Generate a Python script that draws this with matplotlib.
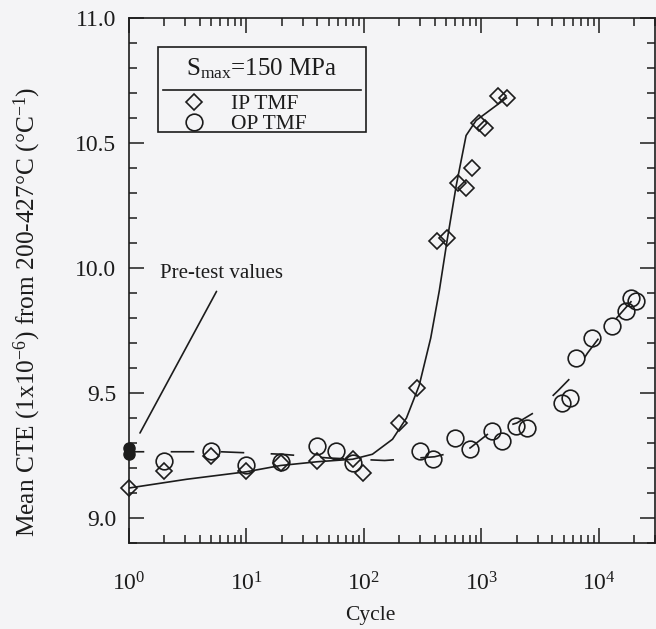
import matplotlib
matplotlib.use('Agg')
import matplotlib.pyplot as plt
from matplotlib.lines import Line2D
from matplotlib.patches import Rectangle
from matplotlib.ticker import LogLocator, MultipleLocator, LogFormatterMathtext, FormatStrFormatter, NullFormatter

plt.rcParams['font.family'] = ['Liberation Serif', 'DejaVu Serif']
plt.rcParams['mathtext.fontset'] = 'custom'
plt.rcParams['mathtext.rm'] = 'Liberation Serif'
plt.rcParams['mathtext.it'] = 'Liberation Serif:italic'
plt.rcParams['lines.scale_dashes'] = False

# ---- data ----
ip_cycles = [1, 2, 5, 10, 19.5, 39.5, 80, 99, 200, 284, 415, 510, 635, 740, 830, 955, 1080, 1370, 1660]
ip_cte = [9.12, 9.19, 9.25, 9.19, 9.22, 9.23, 9.235, 9.18, 9.38, 9.52, 10.11, 10.12, 10.34, 10.32, 10.40, 10.58, 10.56, 10.69, 10.68]

op_cycles = [2, 5, 10, 19.5, 39.5, 58, 80, 302, 389, 598, 802, 1233, 1500, 1972, 2447, 4850, 5670, 6340, 8780, 12970, 16830, 18570, 20480]
op_cte = [9.23, 9.27, 9.21, 9.225, 9.29, 9.27, 9.22, 9.27, 9.235, 9.32, 9.275, 9.35, 9.31, 9.37, 9.36, 9.46, 9.48, 9.64, 9.72, 9.77, 9.83, 9.88, 9.87]

pretest_cycles = [1, 1]
pretest_cte = [9.255, 9.28]

ip_fit_cycles = [1, 3.1, 10, 19.5, 40, 80, 118, 175, 230, 295, 370, 438, 510, 610, 740, 900, 1630]
ip_fit_cte = [9.12, 9.155, 9.185, 9.21, 9.225, 9.235, 9.255, 9.315, 9.40, 9.53, 9.72, 9.91, 10.11, 10.33, 10.53, 10.59, 10.68]

op_fit_cycles = [1, 2.2, 6, 20, 50, 150, 400, 800, 1240, 2000, 3000, 4500, 6000, 8000, 10000, 20000]
op_fit_cte = [9.265, 9.265, 9.265, 9.255, 9.24, 9.23, 9.245, 9.28, 9.35, 9.38, 9.43, 9.51, 9.57, 9.66, 9.72, 9.88]

ink = '#1c1c1c'
bg = '#f4f4f6'

fig = plt.figure(figsize=(6.56, 6.29), dpi=100, facecolor=bg)
ax = fig.add_axes([129/656, 1 - 543/629, 526/656, 525/629])
ax.set_facecolor(bg)

ax.set_xscale('log')
ax.set_xlim(1, 3e4)
ax.set_ylim(8.9, 11.0)

# fit curves
ax.plot(ip_fit_cycles, ip_fit_cte, color=ink, lw=1.2, zorder=2)
ax.plot(op_fit_cycles, op_fit_cte, color=ink, lw=1.2, linestyle=(6, (17, 19)), zorder=2)

# data points
ax.plot(ip_cycles, ip_cte, linestyle='none', marker='D', ms=8.2, mfc='none', mec=ink, mew=1.2, clip_on=False, zorder=3)
ax.plot(op_cycles, op_cte, linestyle='none', marker='o', ms=12, mfc='none', mec=ink, mew=1.2, clip_on=False, zorder=3)
ax.plot(pretest_cycles, pretest_cte, linestyle='none', marker='o', ms=8, mfc=ink, mec=ink, clip_on=False, zorder=4)

# annotation
ax.annotate('Pre-test values', xy=(1.24, 9.34), xytext=(1.83, 9.98),
            fontsize=15, color=ink, va='center', ha='left',
            arrowprops=dict(arrowstyle='-', color=ink, lw=1.2, shrinkA=5, shrinkB=0,
                            relpos=(0.5, 0.0)))

# ticks
ax.xaxis.set_major_locator(LogLocator(base=10, numticks=10))
ax.xaxis.set_minor_locator(LogLocator(base=10, subs=range(2, 10), numticks=20))
ax.xaxis.set_major_formatter(LogFormatterMathtext())
ax.xaxis.set_minor_formatter(NullFormatter())
ax.yaxis.set_major_locator(MultipleLocator(0.5))
ax.yaxis.set_minor_locator(MultipleLocator(0.1))
ax.yaxis.set_major_formatter(FormatStrFormatter('%.1f'))
ax.tick_params(which='both', direction='in', top=True, right=True, colors=ink, labelcolor=ink)
ax.tick_params(which='major', length=11, width=1.1, labelsize=17)
ax.tick_params(which='minor', length=6, width=1.1)
ax.tick_params(axis='y', which='major', pad=9)
ax.tick_params(axis='x', which='major', pad=21)
for s in ax.spines.values():
    s.set_color(ink)
    s.set_linewidth(1.2)

ax.set_xlabel('Cycle', fontsize=15.5, color=ink)
ax.xaxis.set_label_coords((370 - 129) / 526, -0.12)
ax.set_ylabel(r'Mean CTE (1x10$^{-6}$) from 200-427°C (°C$^{-1}$)', fontsize=18.3, color=ink)
ax.yaxis.set_label_coords(-0.163, 0.44)

# legend box
box_l, box_r = (158 - 129) / 526, (366 - 129) / 526
box_t, box_b = 1 - (47 - 18) / 525, 1 - (132 - 18) / 525
sep_y = 1 - (90 - 18) / 525
ax.add_patch(Rectangle((box_l, box_b), box_r - box_l, box_t - box_b, transform=ax.transAxes,
                       fill=True, facecolor=bg, edgecolor=ink, lw=1.2, zorder=5))
ax.add_line(Line2D([box_l + 0.01, box_r - 0.01], [sep_y, sep_y], transform=ax.transAxes, color=ink, lw=1.2, zorder=6))
ax.text((box_l + box_r) / 2, 1 - (69 - 18) / 525, r'S$_{\rm max}$=150 MPa', transform=ax.transAxes,
        ha='center', va='center', fontsize=18, color=ink, zorder=6)
handles = [Line2D([], [], linestyle='none', marker='D', ms=8.2, mfc='none', mec=ink, mew=1.2),
           Line2D([], [], linestyle='none', marker='o', ms=12, mfc='none', mec=ink, mew=1.2)]
leg = ax.legend(handles, ['IP TMF', 'OP TMF'], loc='upper left', bbox_to_anchor=(0.095, 1 - (92 - 18) / 525),
                frameon=False, fontsize=15.5, handlelength=1.2, handletextpad=1.1, labelspacing=0.0,
                borderaxespad=0, borderpad=0.1)
for t in leg.get_texts():
    t.set_color(ink)
leg.set_zorder(7)

fig.savefig('out.png', dpi=100, facecolor=bg)
